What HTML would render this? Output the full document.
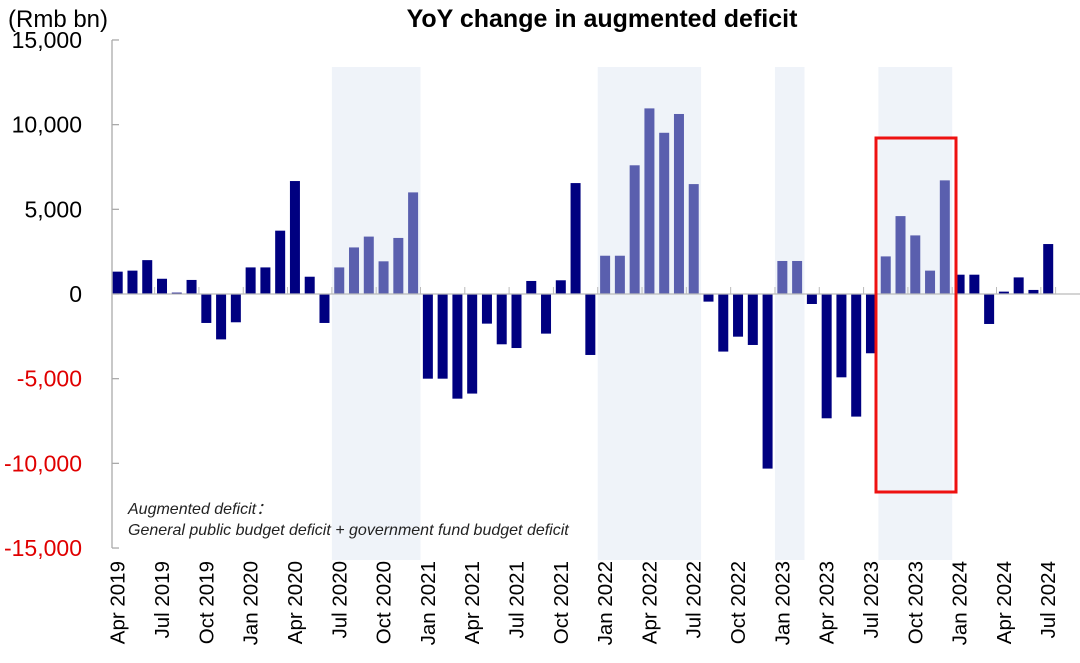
<!DOCTYPE html>
<html><head><meta charset="utf-8"><style>
html,body{margin:0;padding:0;background:#fff;}
svg{display:block;font-family:"Liberation Sans",Arial,sans-serif;}
</style></head><body>
<svg id="chart" width="1080" height="663" viewBox="0 0 1080 663" xmlns="http://www.w3.org/2000/svg">
<text x="602" y="27" text-anchor="middle" font-size="25" font-weight="bold" fill="#000">YoY change in augmented deficit</text>
<text x="8" y="27" font-size="24" fill="#000">(Rmb bn)</text>
<g id="shades"></g>
<g id="axes"></g>
<g id="bars"></g>
<g id="labels"></g>
<rect x="876" y="138" width="80" height="354" fill="none" stroke="#ee1111" stroke-width="3"/>
<text x="128" y="514" font-size="16" font-style="italic" fill="#222">Augmented deficit：</text>
<text x="128" y="535" font-size="16" font-style="italic" fill="#222">General public budget deficit + government fund budget deficit</text>
</svg>
<script>
const months = ["Apr 2019","May 2019","Jun 2019","Jul 2019","Aug 2019","Sep 2019","Oct 2019","Nov 2019","Dec 2019","Jan 2020","Feb 2020","Mar 2020","Apr 2020","May 2020","Jun 2020","Jul 2020","Aug 2020","Sep 2020","Oct 2020","Nov 2020","Dec 2020","Jan 2021","Feb 2021","Mar 2021","Apr 2021","May 2021","Jun 2021","Jul 2021","Aug 2021","Sep 2021","Oct 2021","Nov 2021","Dec 2021","Jan 2022","Feb 2022","Mar 2022","Apr 2022","May 2022","Jun 2022","Jul 2022","Aug 2022","Sep 2022","Oct 2022","Nov 2022","Dec 2022","Jan 2023","Feb 2023","Mar 2023","Apr 2023","May 2023","Jun 2023","Jul 2023","Aug 2023","Sep 2023","Oct 2023","Nov 2023","Dec 2023","Jan 2024","Feb 2024","Mar 2024","Apr 2024","May 2024","Jun 2024","Jul 2024"];
const values = [1320,1380,2000,900,80,830,-1710,-2680,-1670,1570,1570,3740,6670,1020,-1710,1570,2750,3390,1930,3310,6000,-5000,-5000,-6180,-5880,-1750,-2970,-3190,770,-2340,810,6550,-3600,2260,2260,7600,10960,9520,10630,6490,-450,-3400,-2520,-3010,-10310,1950,1950,-590,-7340,-4920,-7240,-3500,2220,4600,3460,1380,6710,1140,1140,-1770,140,980,240,2950];
const highlighted = [15,16,17,18,19,20,33,34,35,36,37,38,39,45,46,52,53,54,55,56];
const shadeRanges = [[15,20],[33,39],[45,46],[52,56]];
const yTicks = [15000,10000,5000,0,-5000,-10000,-15000];
const yTickLabels = ["15,000","10,000","5,000","0","-5,000","-10,000","-15,000"];

const NS="http://www.w3.org/2000/svg";
const x0=117.7, step=14.77, barW=10;
const xPos=i=>x0+i*step;
const yPos=v=>294-v*0.016935;
function mk(tag,attrs,parent,text){const e=document.createElementNS(NS,tag);for(const k in attrs)e.setAttribute(k,attrs[k]);if(text!==undefined)e.textContent=text;document.getElementById(parent).appendChild(e);return e;}

shadeRanges.forEach(r=>{
  const e=mk('rect',{x:xPos(r[0])-step/2,y:67,width:(r[1]-r[0]+1)*step,height:493,fill:'#eff3f9'},'shades');
  
  
});

let a=mk('line',{x1:112,y1:40,x2:112,y2:548,stroke:'#aaa','stroke-width':1.3},'axes');


yTicks.forEach((t,i)=>{
  mk('line',{x1:112,y1:yPos(t),x2:119,y2:yPos(t),stroke:'#aaa','stroke-width':1.3},'axes');
  const l=mk('text',{x:82,y:yPos(t)+8,'text-anchor':'end','font-size':23,fill:t<0?'#e00000':'#000'},'axes',yTickLabels[i]);
  
  
});

values.forEach((v,i)=>{
  const y=yPos(v),z=yPos(0);
  const b=mk('rect',{x:xPos(i)-barW/2,y:Math.min(y,z),width:barW,height:Math.max(1,Math.abs(z-y)),fill:highlighted.includes(i)?'#5a5fae':'#000080'},'bars');
  
  
});

let zl=mk('line',{x1:112,y1:294,x2:1080,y2:294,stroke:'#bbb','stroke-width':1.3},'bars');



months.forEach((m,i)=>{
  if(i%3!==0) return;
  if(i>0) mk('line',{x1:xPos(i)-step/2,y1:294,x2:xPos(i)-step/2,y2:287,stroke:'#bbb','stroke-width':1},'bars');
  const x=xPos(i)+7;
  const t=mk('text',{x:x,y:561,'text-anchor':'end','font-size':20.5,fill:'#000',transform:'rotate(-90 '+x+' 561)'},'labels',m);
  
  
});
mk('line',{x1:xPos(63)+step/2,y1:294,x2:xPos(63)+step/2,y2:287,stroke:'#bbb','stroke-width':1},'bars');
</script>
</body></html>
